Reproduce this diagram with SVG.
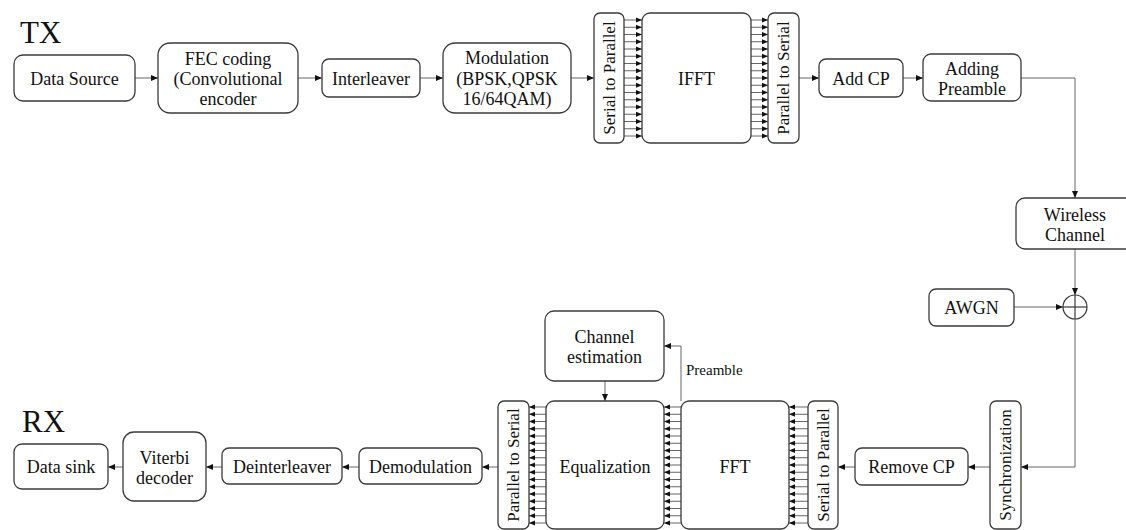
<svg xmlns="http://www.w3.org/2000/svg" width="1126" height="530" viewBox="0 0 1126 530">
<style>
  text { font-family: 'Liberation Serif', 'Times New Roman', serif; }
  .box { fill: #fff; stroke: #3a3a3a; stroke-width: 1.3; }
  .t { font-size: 18px; fill: #111; text-anchor: middle; }
  .rt { font-size: 17px; fill: #111; text-anchor: middle; dominant-baseline: central; }
  .big { font-size: 31px; fill: #111; }
  .small { font-size: 15px; fill: #111; }
  .ln { fill: none; stroke: #666; stroke-width: 1; marker-end: url(#ah); }
  .bus { fill: none; stroke: #666; stroke-width: 1; marker-end: url(#ahs); }
</style>
<defs>
  <marker id="ah" markerUnits="userSpaceOnUse" markerWidth="7" markerHeight="7" refX="7" refY="3.5" orient="auto">
    <path d="M0,0.5 L7,3.5 L0,6.5 z" fill="#111"/>
  </marker>
  <marker id="ahs" markerUnits="userSpaceOnUse" markerWidth="6" markerHeight="6" refX="6" refY="3" orient="auto">
    <path d="M0,0.5 L6,3 L0,5.5 z" fill="#111"/>
  </marker>
</defs>
<text class="big" style="font-family:'Liberation Serif',serif" x="20" y="43">TX</text>
<text class="big" style="font-family:'Liberation Serif',serif" x="22" y="432">RX</text>

<g id="connectors">
  <line class="ln" x1="135" y1="78" x2="158" y2="78"/>
  <line class="ln" x1="298" y1="78" x2="322" y2="78"/>
  <line class="ln" x1="420" y1="78" x2="443" y2="78"/>
  <line class="ln" x1="571" y1="78" x2="594" y2="78"/>
  <line class="ln" x1="799" y1="78" x2="819" y2="78"/>
  <line class="ln" x1="903" y1="78" x2="923" y2="78"/>
  <polyline class="ln" points="1021,78 1075,78 1075,198"/>
  <line class="ln" x1="1075" y1="249" x2="1075" y2="295"/>
  <line class="ln" x1="1014" y1="307" x2="1063" y2="307"/>
  <polyline class="ln" points="1075,319 1075,467 1021,467"/>
  <line class="ln" x1="990" y1="467" x2="968" y2="467"/>
  <line class="ln" x1="855" y1="467" x2="838" y2="467"/>
  <line class="ln" x1="498" y1="467" x2="482" y2="467"/>
  <line class="ln" x1="359" y1="467" x2="342" y2="467"/>
  <line class="ln" x1="222" y1="467" x2="206" y2="467"/>
  <line class="ln" x1="123" y1="467" x2="108" y2="467"/>
  <line class="ln" x1="605" y1="381" x2="605" y2="401"/>
  <polyline class="ln" points="681,401 681,346 664,346"/>
  <text class="small" style="font-family:'Liberation Serif',serif" x="686" y="375">Preamble</text>

  <g id="bus-tx-1">
    <line class="bus" x1="624" y1="20" x2="642" y2="20"/><line class="bus" x1="624" y1="27.25" x2="642" y2="27.25"/>
    <line class="bus" x1="624" y1="34.5" x2="642" y2="34.5"/><line class="bus" x1="624" y1="41.75" x2="642" y2="41.75"/>
    <line class="bus" x1="624" y1="49" x2="642" y2="49"/><line class="bus" x1="624" y1="56.25" x2="642" y2="56.25"/>
    <line class="bus" x1="624" y1="63.5" x2="642" y2="63.5"/><line class="bus" x1="624" y1="70.75" x2="642" y2="70.75"/>
    <line class="bus" x1="624" y1="78" x2="642" y2="78"/><line class="bus" x1="624" y1="85.25" x2="642" y2="85.25"/>
    <line class="bus" x1="624" y1="92.5" x2="642" y2="92.5"/><line class="bus" x1="624" y1="99.75" x2="642" y2="99.75"/>
    <line class="bus" x1="624" y1="107" x2="642" y2="107"/><line class="bus" x1="624" y1="114.25" x2="642" y2="114.25"/>
    <line class="bus" x1="624" y1="121.5" x2="642" y2="121.5"/><line class="bus" x1="624" y1="128.75" x2="642" y2="128.75"/>
    <line class="bus" x1="624" y1="136" x2="642" y2="136"/>
  </g>
  <g id="bus-tx-2">
    <line class="bus" x1="751" y1="20" x2="768" y2="20"/><line class="bus" x1="751" y1="27.25" x2="768" y2="27.25"/>
    <line class="bus" x1="751" y1="34.5" x2="768" y2="34.5"/><line class="bus" x1="751" y1="41.75" x2="768" y2="41.75"/>
    <line class="bus" x1="751" y1="49" x2="768" y2="49"/><line class="bus" x1="751" y1="56.25" x2="768" y2="56.25"/>
    <line class="bus" x1="751" y1="63.5" x2="768" y2="63.5"/><line class="bus" x1="751" y1="70.75" x2="768" y2="70.75"/>
    <line class="bus" x1="751" y1="78" x2="768" y2="78"/><line class="bus" x1="751" y1="85.25" x2="768" y2="85.25"/>
    <line class="bus" x1="751" y1="92.5" x2="768" y2="92.5"/><line class="bus" x1="751" y1="99.75" x2="768" y2="99.75"/>
    <line class="bus" x1="751" y1="107" x2="768" y2="107"/><line class="bus" x1="751" y1="114.25" x2="768" y2="114.25"/>
    <line class="bus" x1="751" y1="121.5" x2="768" y2="121.5"/><line class="bus" x1="751" y1="128.75" x2="768" y2="128.75"/>
    <line class="bus" x1="751" y1="136" x2="768" y2="136"/>
  </g>
  <g id="bus-rx-1">
    <line class="bus" x1="808" y1="407" x2="789" y2="407"/><line class="bus" x1="808" y1="414.25" x2="789" y2="414.25"/>
    <line class="bus" x1="808" y1="421.5" x2="789" y2="421.5"/><line class="bus" x1="808" y1="428.75" x2="789" y2="428.75"/>
    <line class="bus" x1="808" y1="436" x2="789" y2="436"/><line class="bus" x1="808" y1="443.25" x2="789" y2="443.25"/>
    <line class="bus" x1="808" y1="450.5" x2="789" y2="450.5"/><line class="bus" x1="808" y1="457.75" x2="789" y2="457.75"/>
    <line class="bus" x1="808" y1="465" x2="789" y2="465"/><line class="bus" x1="808" y1="472.25" x2="789" y2="472.25"/>
    <line class="bus" x1="808" y1="479.5" x2="789" y2="479.5"/><line class="bus" x1="808" y1="486.75" x2="789" y2="486.75"/>
    <line class="bus" x1="808" y1="494" x2="789" y2="494"/><line class="bus" x1="808" y1="501.25" x2="789" y2="501.25"/>
    <line class="bus" x1="808" y1="508.5" x2="789" y2="508.5"/><line class="bus" x1="808" y1="515.75" x2="789" y2="515.75"/>
    <line class="bus" x1="808" y1="523" x2="789" y2="523"/>
  </g>
  <g id="bus-rx-2">
    <line class="bus" x1="681" y1="407" x2="664" y2="407"/><line class="bus" x1="681" y1="414.25" x2="664" y2="414.25"/>
    <line class="bus" x1="681" y1="421.5" x2="664" y2="421.5"/><line class="bus" x1="681" y1="428.75" x2="664" y2="428.75"/>
    <line class="bus" x1="681" y1="436" x2="664" y2="436"/><line class="bus" x1="681" y1="443.25" x2="664" y2="443.25"/>
    <line class="bus" x1="681" y1="450.5" x2="664" y2="450.5"/><line class="bus" x1="681" y1="457.75" x2="664" y2="457.75"/>
    <line class="bus" x1="681" y1="465" x2="664" y2="465"/><line class="bus" x1="681" y1="472.25" x2="664" y2="472.25"/>
    <line class="bus" x1="681" y1="479.5" x2="664" y2="479.5"/><line class="bus" x1="681" y1="486.75" x2="664" y2="486.75"/>
    <line class="bus" x1="681" y1="494" x2="664" y2="494"/><line class="bus" x1="681" y1="501.25" x2="664" y2="501.25"/>
    <line class="bus" x1="681" y1="508.5" x2="664" y2="508.5"/><line class="bus" x1="681" y1="515.75" x2="664" y2="515.75"/>
    <line class="bus" x1="681" y1="523" x2="664" y2="523"/>
  </g>
  <g id="bus-rx-3">
    <line class="bus" x1="546" y1="407" x2="529" y2="407"/><line class="bus" x1="546" y1="414.25" x2="529" y2="414.25"/>
    <line class="bus" x1="546" y1="421.5" x2="529" y2="421.5"/><line class="bus" x1="546" y1="428.75" x2="529" y2="428.75"/>
    <line class="bus" x1="546" y1="436" x2="529" y2="436"/><line class="bus" x1="546" y1="443.25" x2="529" y2="443.25"/>
    <line class="bus" x1="546" y1="450.5" x2="529" y2="450.5"/><line class="bus" x1="546" y1="457.75" x2="529" y2="457.75"/>
    <line class="bus" x1="546" y1="465" x2="529" y2="465"/><line class="bus" x1="546" y1="472.25" x2="529" y2="472.25"/>
    <line class="bus" x1="546" y1="479.5" x2="529" y2="479.5"/><line class="bus" x1="546" y1="486.75" x2="529" y2="486.75"/>
    <line class="bus" x1="546" y1="494" x2="529" y2="494"/><line class="bus" x1="546" y1="501.25" x2="529" y2="501.25"/>
    <line class="bus" x1="546" y1="508.5" x2="529" y2="508.5"/><line class="bus" x1="546" y1="515.75" x2="529" y2="515.75"/>
    <line class="bus" x1="546" y1="523" x2="529" y2="523"/>
  </g>
</g>

<g id="data-source"><rect class="box" x="14" y="55" width="121" height="46" rx="9"/><text class="t" style="font-family:'Liberation Serif',serif" x="74.5" y="85">Data Source</text></g>
<g id="fec"><rect class="box" x="158" y="43" width="140" height="70" rx="12"/>
  <text class="t" style="font-family:'Liberation Serif',serif" x="228" y="65">FEC coding</text><text class="t" style="font-family:'Liberation Serif',serif" x="228" y="85">(Convolutional</text><text class="t" style="font-family:'Liberation Serif',serif" x="228" y="105">encoder</text></g>
<g id="interleaver"><rect class="box" x="322" y="59" width="98" height="38" rx="7"/><text class="t" style="font-family:'Liberation Serif',serif" x="371" y="85">Interleaver</text></g>
<g id="modulation"><rect class="box" x="443" y="43" width="128" height="70" rx="12"/>
  <text class="t" style="font-family:'Liberation Serif',serif" x="507" y="64">Modulation</text><text class="t" style="font-family:'Liberation Serif',serif" x="507" y="85">(BPSK,QPSK</text><text class="t" style="font-family:'Liberation Serif',serif" x="507" y="105">16/64QAM)</text></g>
<g id="sp-tx"><rect class="box" x="594" y="13" width="30" height="130" rx="6"/><text class="rt" style="font-family:'Liberation Serif',serif" transform="translate(609,78) rotate(-90)">Serial to Parallel</text></g>
<g id="ifft"><rect class="box" x="642" y="13" width="109" height="130" rx="8"/><text class="t" style="font-family:'Liberation Serif',serif" x="696.5" y="85">IFFT</text></g>
<g id="ps-tx"><rect class="box" x="768" y="13" width="31" height="130" rx="6"/><text class="rt" style="font-family:'Liberation Serif',serif" transform="translate(783.5,78) rotate(-90)">Parallel to Serial</text></g>
<g id="add-cp"><rect class="box" x="819" y="59" width="84" height="38" rx="7"/><text class="t" style="font-family:'Liberation Serif',serif" x="861" y="85">Add CP</text></g>
<g id="adding-preamble"><rect class="box" x="923" y="54" width="98" height="47" rx="8"/>
  <text class="t" style="font-family:'Liberation Serif',serif" x="972" y="75">Adding</text><text class="t" style="font-family:'Liberation Serif',serif" x="972" y="95">Preamble</text></g>
<g id="wireless-channel"><rect class="box" x="1016" y="198" width="120" height="51" rx="9"/>
  <text class="t" style="font-family:'Liberation Serif',serif" x="1075" y="221">Wireless</text><text class="t" style="font-family:'Liberation Serif',serif" x="1075" y="241">Channel</text></g>
<g id="awgn"><rect class="box" x="929" y="289" width="85" height="37" rx="7"/><text class="t" style="font-family:'Liberation Serif',serif" x="971.5" y="314">AWGN</text></g>
<g id="adder"><circle cx="1075" cy="307" r="12" fill="#fff" stroke="#3a3a3a" stroke-width="1.2"/>
  <line x1="1063" y1="307" x2="1087" y2="307" stroke="#3a3a3a" stroke-width="1.2"/>
  <line x1="1075" y1="295" x2="1075" y2="319" stroke="#3a3a3a" stroke-width="1.2"/></g>
<g id="synchronization"><rect class="box" x="990" y="401" width="31" height="128" rx="6"/><text class="rt" style="font-family:'Liberation Serif',serif" transform="translate(1005.5,465) rotate(-90)">Synchronization</text></g>
<g id="remove-cp"><rect class="box" x="855" y="448" width="113" height="37" rx="7"/><text class="t" style="font-family:'Liberation Serif',serif" x="911.5" y="473">Remove CP</text></g>
<g id="sp-rx"><rect class="box" x="808" y="401" width="30" height="128" rx="6"/><text class="rt" style="font-family:'Liberation Serif',serif" transform="translate(823,465) rotate(-90)">Serial to Parallel</text></g>
<g id="fft"><rect class="box" x="681" y="401" width="108" height="128" rx="8"/><text class="t" style="font-family:'Liberation Serif',serif" x="735" y="473">FFT</text></g>
<g id="equalization"><rect class="box" x="546" y="401" width="118" height="128" rx="8"/><text class="t" style="font-family:'Liberation Serif',serif" x="605" y="473">Equalization</text></g>
<g id="channel-estimation"><rect class="box" x="545" y="311" width="119" height="70" rx="9"/>
  <text class="t" style="font-family:'Liberation Serif',serif" x="604.5" y="343">Channel</text><text class="t" style="font-family:'Liberation Serif',serif" x="604.5" y="363">estimation</text></g>
<g id="ps-rx"><rect class="box" x="498" y="401" width="31" height="128" rx="6"/><text class="rt" style="font-family:'Liberation Serif',serif" transform="translate(513.5,465) rotate(-90)">Parallel to Serial</text></g>
<g id="demodulation"><rect class="box" x="359" y="448" width="123" height="36" rx="7"/><text class="t" style="font-family:'Liberation Serif',serif" x="420.5" y="473">Demodulation</text></g>
<g id="deinterleaver"><rect class="box" x="222" y="448" width="120" height="36" rx="7"/><text class="t" style="font-family:'Liberation Serif',serif" x="282" y="473">Deinterleaver</text></g>
<g id="viterbi"><rect class="box" x="123" y="432" width="83" height="69" rx="11"/>
  <text class="t" style="font-family:'Liberation Serif',serif" x="164.5" y="464">Viterbi</text><text class="t" style="font-family:'Liberation Serif',serif" x="164.5" y="484">decoder</text></g>
<g id="data-sink"><rect class="box" x="14" y="444" width="94" height="45" rx="8"/><text class="t" style="font-family:'Liberation Serif',serif" x="61" y="473">Data sink</text></g>
</svg>
